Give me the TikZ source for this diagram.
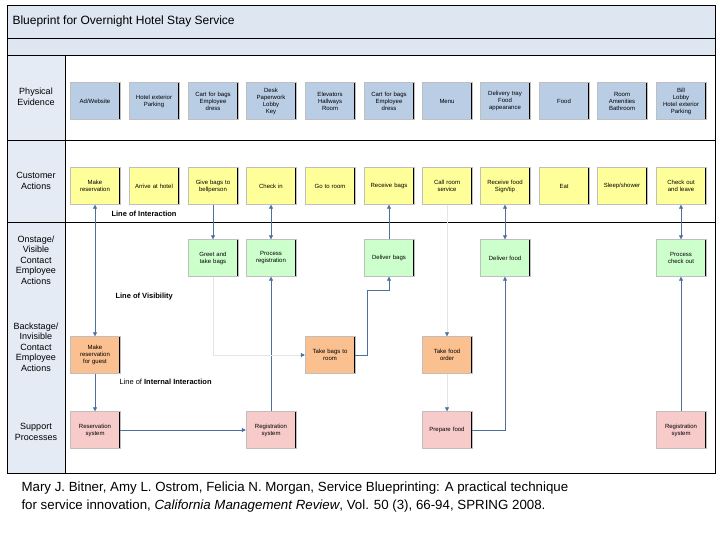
\documentclass[tikz,border=0pt]{standalone}
\usepackage{fontspec}
\setmainfont{Liberation Sans}
\usetikzlibrary{arrows.meta}
\definecolor{band}{HTML}{DDE6F1}
\definecolor{pev}{HTML}{B9CDE5}
\definecolor{cust}{HTML}{FFFF99}
\definecolor{onst}{HTML}{CCFFCC}
\definecolor{back}{HTML}{FAC090}
\definecolor{supp}{HTML}{F8CBCB}
\definecolor{arr}{HTML}{4F6F9F}
\begin{document}
\begin{tikzpicture}[x=1pt,y=-1pt,
  box/.style={minimum width=50pt,minimum height=37pt,inner sep=1pt,align=center,
    font=\fontsize{6}{7}\selectfont,text width=48pt,draw=gray!50,line width=0.3pt,
    path picture={\draw[black,line width=1.4pt] (path picture bounding box.south west) -- (path picture bounding box.south east) -- (path picture bounding box.north east);}},
  pe/.style={box,fill=pev},
  ca/.style={box,fill=cust},
  on/.style={box,fill=onst},
  bs/.style={box,fill=back},
  sp/.style={box,fill=supp},
  lab/.style={align=center,font=\fontsize{9}{10.5}\selectfont},
  ln/.style={anchor=west,font=\fontsize{7.5}{8.5}\selectfont},
  con/.style={draw=arr,line width=0.7pt,-{Triangle[width=4pt,length=4pt]}},
  both/.style={con,{Triangle[width=4pt,length=4pt]}-{Triangle[width=4pt,length=4pt]}},
  faint/.style={draw=gray!20,line width=0.6pt,-{Triangle[width=4pt,length=4pt,color=arr]}}]
\useasboundingbox (0,0) rectangle (720,540);
% frame
\fill[band] (7,5) rectangle (715,55);
\fill[band!80] (7,55) rectangle (65,473);
\draw[line width=0.6pt] (7,5) rectangle (715,473);
\draw[line width=0.5pt] (7,38) -- (715,38) (7,55) -- (715,55) (7,140) -- (715,140) (7,222) -- (715,222) (65,55) -- (65,473);
\node[anchor=west,font=\fontsize{12}{14}\selectfont] (title) at (9,21) {Blueprint for Overnight Hotel Stay Service};
% row labels
\node[lab] (l1) at (36,97) {Physical\\Evidence};
\node[lab] (l2) at (36,181) {Customer\\Actions};
\node[lab] (l3) at (36,260) {Onstage/\\Visible\\Contact\\Employee\\Actions};
\node[lab] (l4) at (36,347) {Backstage/\\Invisible\\Contact\\Employee\\Actions};
\node[lab] (l5) at (36,432) {Support\\Processes};
% physical evidence
\node[pe] (p1) at (95,101) {Ad/Website};
\node[pe] (p2) at (154,101) {Hotel exterior\\Parking};
\node[pe] (p3) at (213,101) {Cart for bags\\Employee\\dress};
\node[pe] (p4) at (271,101) {Desk\\Paperwork\\Lobby\\Key};
\node[pe] (p5) at (330,101) {Elevators\\Hallways\\Room};
\node[pe] (p6) at (389,101) {Cart for bags\\Employee\\dress};
\node[pe] (p7) at (447,101) {Menu};
\node[pe] (p8) at (505,101) {Delivery tray\\Food\\appearance};
\node[pe] (p9) at (564,101) {Food};
\node[pe] (p10) at (622,101) {Room\\Amenities\\Bathroom};
\node[pe] (p11) at (681,101) {Bill\\Lobby\\Hotel exterior\\Parking};
% customer actions
\node[ca] (c1) at (95,186) {Make\\reservation};
\node[ca] (c2) at (154,186) {Arrive at hotel};
\node[ca] (c3) at (213,186) {Give bags to\\bellperson};
\node[ca] (c4) at (271,186) {Check in};
\node[ca] (c5) at (330,186) {Go to room};
\node[ca] (c6) at (389,186) {Receive bags};
\node[ca] (c7) at (447,186) {Call room\\service};
\node[ca] (c8) at (505,186) {Receive food\\Sign/tip};
\node[ca] (c9) at (564,186) {Eat};
\node[ca] (c10) at (622,186) {Sleep/shower};
\node[ca] (c11) at (681,186) {Check out\\and leave};
% onstage
\node[on] (o1) at (213,258) {Greet and\\take bags};
\node[on] (o2) at (271,258) {Process\\registration};
\node[on] (o3) at (389,258) {Deliver bags};
\node[on] (o4) at (505,258) {Deliver food};
\node[on] (o5) at (681,258) {Process\\check out};
% backstage
\node[bs] (b1) at (95,355) {Make\\reservation\\for guest};
\node[bs] (b2) at (330,355) {Take bags to\\room};
\node[bs] (b3) at (447,355) {Take food\\order};
% support
\node[sp] (s1) at (95,430) {Reservation\\system};
\node[sp] (s2) at (271,430) {Registration\\system};
\node[sp] (s3) at (447,430) {Prepare food};
\node[sp] (s4) at (681,430) {Registration\\system};
% line labels
\node[ln,font=\bfseries\fontsize{7.5}{8.5}\selectfont] (li) at (108,214) {Line of Interaction};
\node[ln,font=\bfseries\fontsize{7.5}{8.5}\selectfont] (lv) at (112,297) {Line of Visibility};
\node[ln] (lii) at (116,382) {Line of \textbf{Internal Interaction}};
% connectors
\draw[both] (c1) -- (b1);
\draw[con] (b1) -- (s1);
\draw[con] (s1) -- (s2);
\draw[con] (s2) -- (o2);
\draw[both] (c4) -- (o2);
\draw[con] (c3) -- (o1);
\coordinate (k0) at (213,355);
\draw[faint] (o1.south) -- (k0) -- (b2.west);
\coordinate (k1) at (367,355);
\coordinate (k2) at (367,290);
\coordinate (k3) at (389,290);
\draw[con] (b2.east) -- (k1) -- (k2) -- (k3) -- (o3.south);
\draw[con] (o3) -- (c6);
\draw[faint] (c7) -- (b3);
\draw[faint] (b3) -- (s3);
\coordinate (k4) at (505,430);
\draw[con] (s3.east) -- (k4) -- (o4.south);
\draw[both] (c8) -- (o4);
\draw[both] (c11) -- (o5);
\draw[con] (s4) -- (o5);
% caption
\node[anchor=north west,align=left,font=\fontsize{13.3}{18}\selectfont] (cap) at (18,478)
 {Mary J. Bitner, Amy L. Ostrom, Felicia N. Morgan, Service Blueprinting: A practical technique\\for service innovation, \textit{California Management Review}, Vol. 50 (3), 66-94, SPRING 2008.};
\end{tikzpicture}
\end{document}
